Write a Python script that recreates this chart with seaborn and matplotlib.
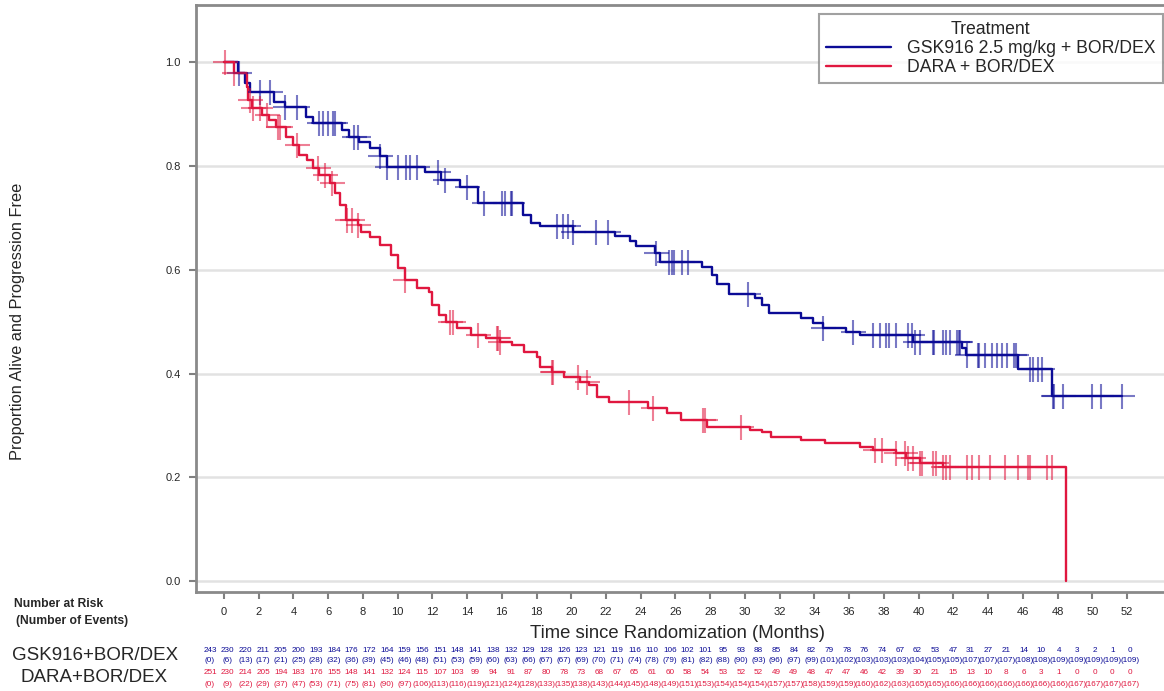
import numpy as np
import pandas as pd
import matplotlib
matplotlib.use("Agg")
import matplotlib.pyplot as plt
import seaborn as sns

# KM step points: (month, proportion after step)
gsk_time = [0, 0.8, 1.2, 1.5, 2.9, 3.5, 4.7, 5.1, 6.8, 7.2, 7.8, 8.4, 9.0, 9.4, 11.6, 12.5,
            13.6, 14.6, 17.2, 17.7, 18.2, 20.1, 22.5, 23.4, 23.7, 24.8, 25.1, 27.5, 28.1,
            28.4, 29.1, 30.6, 31.0, 31.4, 33.2, 33.9, 34.5, 35.8, 36.6, 39.7, 42.5, 42.7,
            45.7, 47.7, 51.7]
gsk_surv = [1.0, 0.979, 0.96, 0.942, 0.923, 0.913, 0.894, 0.882, 0.869, 0.855, 0.846, 0.834,
            0.82, 0.798, 0.788, 0.772, 0.76, 0.728, 0.705, 0.69, 0.684, 0.672, 0.664, 0.655,
            0.645, 0.632, 0.615, 0.605, 0.59, 0.572, 0.553, 0.545, 0.532, 0.516, 0.507,
            0.497, 0.487, 0.48, 0.474, 0.46, 0.45, 0.435, 0.408, 0.356, 0.356]

dara_time = [0, 0.6, 1.3, 1.4, 1.6, 2.2, 2.6, 3.0, 3.6, 4.0, 4.3, 4.8, 5.1, 5.5, 6.1, 6.4,
             6.7, 7.0, 7.7, 7.9, 8.4, 9.0, 9.6, 10.0, 10.4, 11.1, 11.8, 12.0, 12.4, 12.8,
             13.4, 14.2, 15.1, 15.9, 16.6, 17.3, 18.0, 18.2, 18.9, 19.6, 20.5, 21.0, 21.5,
             22.2, 24.4, 25.5, 26.3, 27.8, 30.3, 31.0, 31.5, 33.2, 34.6, 36.6, 37.4, 38.7,
             39.3, 40.1, 41.4, 48.5]
dara_surv = [1.0, 0.979, 0.952, 0.927, 0.911, 0.898, 0.888, 0.875, 0.855, 0.84, 0.821, 0.811,
             0.796, 0.782, 0.767, 0.748, 0.724, 0.696, 0.686, 0.672, 0.663, 0.647, 0.628,
             0.603, 0.58, 0.565, 0.557, 0.532, 0.512, 0.499, 0.487, 0.474, 0.468, 0.46,
             0.455, 0.441, 0.432, 0.412, 0.403, 0.393, 0.383, 0.378, 0.355, 0.345, 0.333,
             0.324, 0.31, 0.297, 0.292, 0.287, 0.277, 0.272, 0.266, 0.258, 0.252, 0.246,
             0.237, 0.227, 0.22, 0.0]

# censoring times
gsk_cens = [0.86, 2.07, 2.65, 3.5, 4.2, 5.5, 5.7, 6.0, 6.3, 6.4, 7.5, 7.7, 9.0, 9.4, 10.0,
            10.5, 10.7, 11.1, 12.3, 12.7, 14.0, 15.0, 16.0, 16.2, 16.5, 16.6, 19.2, 19.5,
            19.8, 20.1, 21.4, 22.1, 24.9, 25.6, 25.8, 25.9, 26.4, 26.7, 30.2, 34.5, 36.2,
            37.4, 37.8, 38.1, 38.3, 38.7, 39.4, 39.6, 39.8, 40.1, 40.8, 40.9, 41.4, 41.6,
            41.8, 42.2, 42.3, 42.4, 42.8, 43.4, 43.5, 43.8, 44.2, 44.5, 44.8, 45.1, 45.5,
            45.6, 46.4, 46.6, 46.9, 47.1, 47.75, 47.8, 48.3, 50.0, 50.5, 51.7]
dara_cens = [0.05, 0.6, 1.5, 1.7, 2.1, 2.5, 3.1, 3.2, 4.2, 5.4, 5.8, 6.2, 7.1, 7.4, 7.7,
             10.4, 13.0, 13.2, 14.6, 15.7, 15.8, 15.9, 18.9, 18.95, 20.4, 20.9, 23.3, 24.7,
             27.6, 27.7, 29.8, 37.5, 37.9, 38.7, 39.2, 39.4, 39.7, 40.1, 40.2, 40.8, 41.0,
             41.4, 41.6, 41.8, 42.8, 43.1, 43.5, 44.1, 45.0, 45.7, 46.3, 46.4, 47.4, 47.7]

# number at risk / number of events table
months = list(range(0, 53))
gsk_risk = [243, 230, 220, 211, 205, 200, 193, 184, 176, 172, 164, 159, 156, 151, 148, 141,
            138, 132, 129, 128, 126, 123, 121, 119, 116, 110, 106, 102, 101, 95, 93, 88, 85,
            84, 82, 79, 78, 76, 74, 67, 62, 53, 47, 31, 27, 21, 14, 10, 4, 3, 2, 1, 0]
gsk_events = [0, 6, 13, 17, 21, 25, 28, 32, 36, 39, 45, 46, 48, 51, 53, 59, 60, 63, 66, 67,
              67, 69, 70, 71, 74, 78, 79, 81, 82, 88, 90, 93, 96, 97, 99, 101, 102, 103, 103,
              103, 104, 105, 105, 107, 107, 107, 108, 108, 109, 109, 109, 109, 109]
dara_risk = [251, 230, 214, 205, 194, 183, 176, 155, 148, 141, 132, 124, 115, 107, 103, 99,
             94, 91, 87, 80, 78, 73, 68, 67, 65, 61, 60, 58, 54, 53, 52, 52, 49, 49, 48, 47,
             47, 46, 42, 39, 30, 21, 15, 13, 10, 8, 6, 3, 1, 0, 0, 0, 0]
dara_events = [0, 9, 22, 29, 37, 47, 53, 71, 75, 81, 90, 97, 106, 113, 116, 119, 121, 124,
               128, 133, 135, 138, 143, 144, 145, 148, 149, 151, 153, 154, 154, 154, 157, 157,
               158, 159, 159, 160, 162, 163, 165, 165, 166, 166, 166, 166, 166, 166, 166, 167,
               167, 167, 167]

labels = ["GSK916 2.5 mg/kg + BOR/DEX", "DARA + BOR/DEX"]
colors = ["#0b0b96", "#e0173f"]


def step_value(t, times, surv):
    idx = np.searchsorted(times, t, side="right") - 1
    return surv[max(idx, 0)]


sns.set_style("white")
plt.rcParams['font.family'] = ['Liberation Sans', 'DejaVu Sans']

fig = plt.figure(figsize=(11.64, 6.91), dpi=100)
ax = fig.add_axes([196 / 1164, 1 - 592 / 691, 1 - 196 / 1164, (592 - 4.5) / 691])

df = pd.concat([
    pd.DataFrame({"time": gsk_time, "surv": gsk_surv, "Treatment": labels[0]}),
    pd.DataFrame({"time": dara_time, "surv": dara_surv, "Treatment": labels[1]}),
])
sns.lineplot(data=df, x="time", y="surv", hue="Treatment", palette=colors,
             drawstyle="steps-post", estimator=None, linewidth=1.7, ax=ax)

for cens, times, surv, c in [(gsk_cens, gsk_time, gsk_surv, colors[0]),
                             (dara_cens, dara_time, dara_surv, colors[1])]:
    ys = [step_value(t, times, surv) for t in cens]
    ax.plot(cens, ys, linestyle="none", marker="+", markersize=18, mew=1.5,
            color=c, alpha=0.55)

ax.set_xlim(-1.61, 54.13)
ax.set_ylim(-0.021, 1.111)
ax.set_xticks(range(0, 53, 2))
ax.set_yticks([0.0, 0.2, 0.4, 0.6, 0.8, 1.0])
ax.set_yticklabels(["0.0", "0.2", "0.4", "0.6", "0.8", "1.0"])
ax.yaxis.grid(True, color="#e2e2e2", linewidth=1.8)
ax.set_axisbelow(True)
ax.tick_params(axis="both", labelsize=8, length=5, width=1.5, color="#808080",
               direction="out", bottom=True, left=True, pad=6)
for s in ["left", "top", "bottom"]:
    ax.spines[s].set_color("#8a8a8a")
    ax.spines[s].set_linewidth(2)
ax.spines["right"].set_visible(False)
ax.set_xlabel("")
ax.set_ylabel("")

fig.text(678 / 1164, 1 - 633 / 691, "Time since Randomization (Months)", fontsize=13.3,
         ha="center", va="center")
fig.text(18 / 1164, 1 - 321 / 691, "Proportion Alive and Progression Free", fontsize=11.8,
         rotation=90, ha="center", va="center")

handles, _ = ax.get_legend_handles_labels()
leg = ax.legend(handles, labels, title="Treatment", loc="upper right",
                bbox_to_anchor=(0.9985, 0.984), fontsize=12.7, title_fontsize=12.7,
                frameon=True, fancybox=False, edgecolor="#8a8a8a", handlelength=3.7,
                borderaxespad=0, borderpad=0.4, labelspacing=0.12, handletextpad=0.9)
leg.get_frame().set_linewidth(1.5)

# risk table
fig.text(14 / 1164, 1 - 604 / 691, "Number at Risk", fontsize=8.7, fontweight="bold",
         va="center")
fig.text(16 / 1164, 1 - 621 / 691, "(Number of Events)", fontsize=8.7, fontweight="bold",
         va="center")
fig.text(12 / 1164, 1 - 656 / 691, "GSK916+BOR/DEX", fontsize=13.5, va="center")
fig.text(168 / 1164, 1 - 678 / 691, "DARA+BOR/DEX", fontsize=13.5, va="center", ha="right")

rows = [(gsk_risk, 650, "{}", colors[0]), (gsk_events, 661, "({})", colors[0]),
        (dara_risk, 672, "{}", colors[1]), (dara_events, 684, "({})", colors[1])]
for vals, ypx, fmt, c in rows:
    for m, v in zip(months, vals):
        fig.text((210 + m * 17.69) / 1164, 1 - ypx / 691, fmt.format(v), fontsize=5.9,
                 color=c, ha="center", va="center")

fig.savefig("out.png", dpi=100)
